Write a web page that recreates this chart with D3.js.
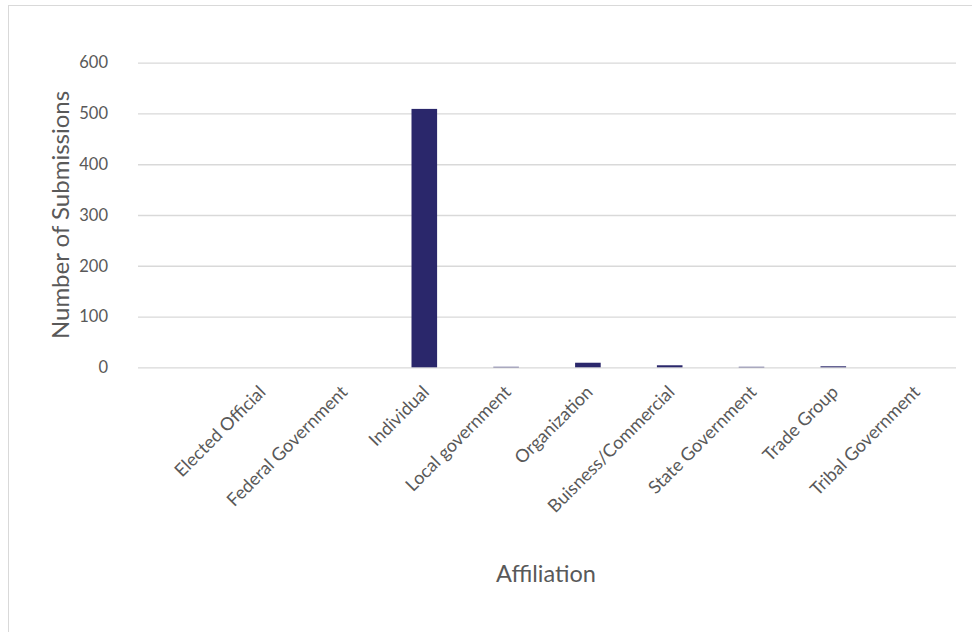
<!DOCTYPE html>
<html>
<head>
<meta charset="utf-8">
<script src="https://cdn.jsdelivr.net/npm/d3@7"></script>
<style>
  html, body { margin: 0; padding: 0; background: #fff; }
  svg { display: block; }
</style>
</head>
<body>
<svg id="chart" width="972" height="632"></svg>
<script>
const categories = ["", "Elected Official", "Federal Government", "Individual", "Local government",
  "Organization", "Buisness/Commercial", "State Government", "Trade Group", "Tribal Government"];
const values = [0, 0, 0, 509, 1, 9, 4, 1, 2, 0];
const yTicks = [0, 100, 200, 300, 400, 500, 600];
const xTitle = "Affiliation";
const yTitle = "Number of Submissions";

const svg = d3.select("#chart");
const W = 972, H = 632;
const font = "Lato, 'Open Sans', sans-serif";
const textColor = "#595959";

// chart border
svg.append("rect")
  .attr("x", 8.5).attr("y", 5.5)
  .attr("width", W + 10).attr("height", H + 10)
  .attr("fill", "#fff").attr("stroke", "#d9d9d9").attr("stroke-width", 1);

const plot = { left: 138, right: 956, top: 62.7, bottom: 367.3 };

const x = d3.scaleBand().domain(categories)
  .range([plot.left, plot.right]).paddingInner(0.687).paddingOuter(0.3435);
const y = d3.scaleLinear().domain([0, 600]).range([plot.bottom, plot.top]);

// gridlines
const yAxis = d3.axisLeft(y).tickValues(yTicks).tickSize(-(plot.right - plot.left)).tickPadding(30);
const gy = svg.append("g").attr("transform", `translate(${plot.left},0)`).call(yAxis);
gy.select(".domain").remove();
gy.selectAll(".tick line").attr("stroke", "#d9d9d9").attr("stroke-width", 1.3);
gy.selectAll(".tick text").attr("fill", textColor).style("font-family", font).style("font-size", "16.5px");

// bars
svg.append("g").selectAll("rect").data(values).join("rect")
  .attr("x", (d, i) => x(categories[i]))
  .attr("width", x.bandwidth())
  .attr("y", d => y(d))
  .attr("height", d => y(0) - y(d))
  .attr("fill", "#2a276b");

// x axis labels
const xAxis = d3.axisBottom(x).tickSize(0).tickPadding(0);
const gx = svg.append("g").attr("transform", `translate(0,${plot.bottom})`).call(xAxis);
gx.select(".domain").remove();
gx.selectAll(".tick text")
  .attr("fill", textColor)
  .style("font-family", font).style("font-size", "18px")
  .attr("text-anchor", "end")
  .attr("dy", "0")
  .attr("transform", "translate(6,26) rotate(-45)");

// axis titles
svg.append("text")
  .attr("x", 546)
  .attr("y", 582)
  .attr("text-anchor", "middle")
  .attr("fill", textColor)
  .style("font-family", font).style("font-size", "23.5px")
  .text(xTitle);

svg.append("text")
  .attr("transform", `translate(69,${(plot.top + plot.bottom) / 2 + 0}) rotate(-90)`)
  .attr("text-anchor", "middle")
  .attr("fill", textColor)
  .style("font-family", font).style("font-size", "24px")
  .text(yTitle);
</script>
</body>
</html>
